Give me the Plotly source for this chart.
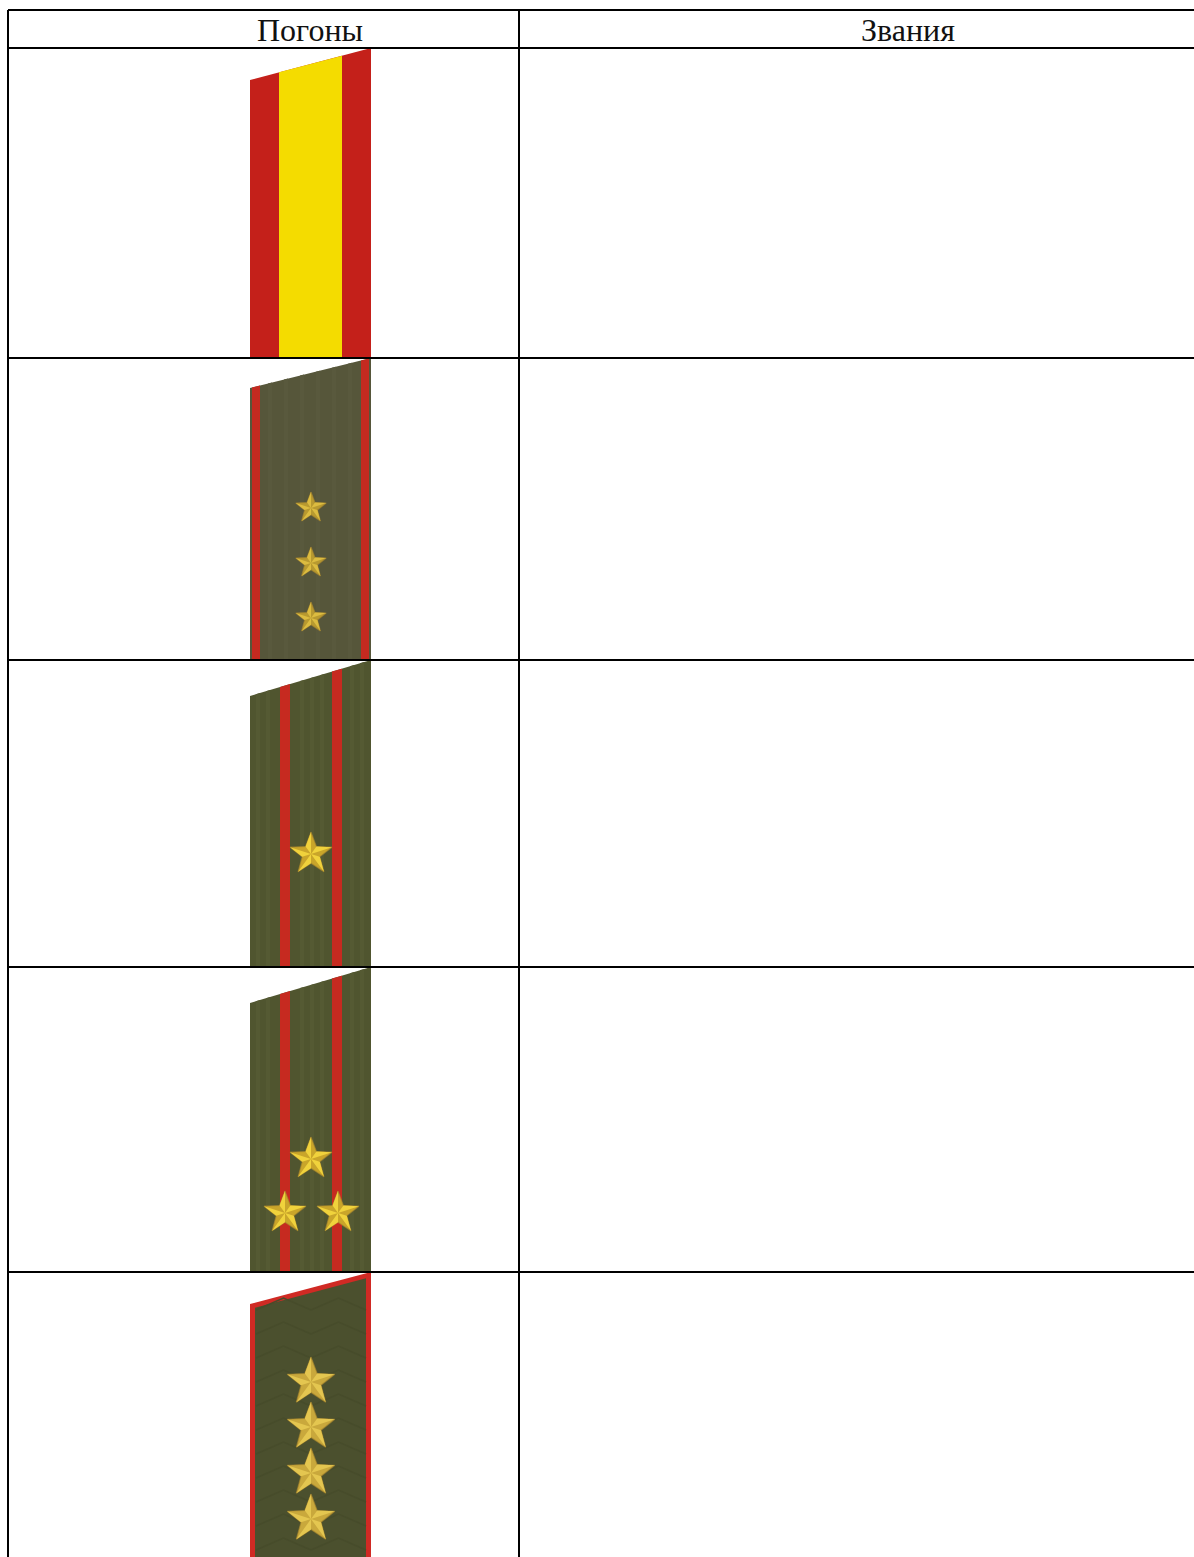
import math
import plotly.graph_objects as go

W, H = 1194, 1557
headers = ["Погоны", "Звания"]
header_x = [310, 908]
row_lines = [10, 48, 358, 660, 967, 1272, 1557]
col_lines = [8, 519]
board_left, board_right = 250, 371
board_rise = [32, 30, 36, 36, 32]

# one entry for each board
board_base = ["#c4201a", "#56563a", "#50552f", "#50552f", "#4b502e"]
# inner bands drawn over the base: (x0, x1, colour)
board_bands = [
    [(279, 342, "#f4dc00")],
    [(252, 260, "#c42a20"), (361, 369, "#c42a20")],
    [(280, 290, "#c62a20"), (332, 342, "#c62a20")],
    [(280, 290, "#c62a20"), (332, 342, "#c62a20")],
    [],
]
# faint vertical weave: (x, colour)
board_weave = [
    [],
    [(x, "#59593d") for x in (268, 284, 300, 316, 332, 348)],
    [(x, "#555a33") for x in (256, 266, 300, 310, 320, 350, 360)],
    [(x, "#555a33") for x in (256, 266, 300, 310, 320, 350, 360)],
    [],
]
board_edge = [0, 0, 0, 0, 5]
edge_colour = "#d02a24"
# stars: (row, cx, cy, radius)
stars = [
    (1, 311, 508, 16), (1, 311, 563, 16), (1, 311, 618, 16),
    (2, 311, 854, 22),
    (3, 311, 1159, 22), (3, 285, 1213, 22), (3, 338, 1213, 22),
    (4, 311, 1382, 25), (4, 311, 1427, 25), (4, 311, 1473, 25), (4, 311, 1519, 25),
]
star_light = ["", "#dcbc40", "#f0d23c", "#f0d23c", "#e4c650"]
star_dark = ["", "#b89a30", "#c9a52a", "#c9a52a", "#c9a83c"]
# chevron braid on the last board
zig_columns = [(256, 311), (311, 366)]
zig_rows = [1310, 1334, 1358, 1382, 1406, 1430, 1454, 1478, 1502, 1526, 1550]
zig_colour = "#474c2b"

fig = go.Figure()


def top_y(row, x):
    rise = board_rise[row]
    return row_lines[row + 1] + rise * (board_right - x) / (board_right - board_left)


def band(x0, x1, row, row_bot, colour):
    fig.add_trace(go.Scatter(
        x=[x0, x1, x1, x0, x0],
        y=[top_y(row, x0), top_y(row, x1), row_bot, row_bot, top_y(row, x0)],
        mode="lines", fill="toself", fillcolor=colour, line=dict(width=0),
        hoverinfo="skip", showlegend=False))


for i, base in enumerate(board_base):
    bot = row_lines[i + 2]
    if board_edge[i]:
        e = board_edge[i]
        band(board_left, board_right, i, bot, edge_colour)
        xs = [board_left + e, board_right - e, board_right - e, board_left + e, board_left + e]
        ys = [top_y(i, board_left + e) + e, top_y(i, board_right - e) + e, bot, bot,
              top_y(i, board_left + e) + e]
        fig.add_trace(go.Scatter(x=xs, y=ys, mode="lines", fill="toself", fillcolor=base,
                                 line=dict(width=0), hoverinfo="skip", showlegend=False))
    else:
        band(board_left, board_right, i, bot, base)
    for x, c in board_weave[i]:
        band(x, x + 4, i, bot, c)
    for x0, x1, c in board_bands[i]:
        band(x0, x1, i, bot, c)

# braid
zx, zy = [], []
for a, b in zig_columns:
    for y in zig_rows:
        zx += [a, (a + b) / 2, b, None]
        zy += [y, y - 12, y, None]
fig.add_trace(go.Scatter(x=zx, y=zy, mode="lines", line=dict(color=zig_colour, width=1.5),
                         hoverinfo="skip", showlegend=False))

# stars: ten facets around the centre
for row, cx, cy, r in stars:
    pts = []
    for k in range(10):
        a = math.radians(-90 + 36 * k)
        rad = r if k % 2 == 0 else r * 0.42
        pts.append((cx + rad * math.cos(a), cy + rad * math.sin(a)))
    fig.add_trace(go.Scatter(
        x=[p[0] for p in pts] + [pts[0][0]], y=[p[1] for p in pts] + [pts[0][1]],
        mode="lines", fill="toself", fillcolor=star_dark[row],
        line=dict(color="rgba(170,135,45,0.6)", width=1.2), hoverinfo="skip", showlegend=False))
    lx, ly = [], []
    for k in range(0, 10, 2):
        p, q = pts[(k - 1) % 10], pts[k]
        lx += [cx, p[0], q[0], cx, None]
        ly += [cy, p[1], q[1], cy, None]
    fig.add_trace(go.Scatter(x=lx, y=ly, mode="lines", fill="toself",
                             fillcolor=star_light[row], line=dict(width=0),
                             hoverinfo="skip", showlegend=False))

# rules
lx, ly = [], []
for y in row_lines[:-1]:
    lx += [col_lines[0], W, None]
    ly += [y, y, None]
for x in col_lines:
    lx += [x, x, None]
    ly += [row_lines[0], H, None]
fig.add_trace(go.Scatter(x=lx, y=ly, mode="lines", line=dict(color="#000000", width=2),
                         hoverinfo="skip", showlegend=False))

fig.add_trace(go.Scatter(
    x=header_x, y=[(row_lines[0] + row_lines[1]) / 2 + 4] * 2, mode="text", text=headers,
    textposition="middle center", textfont=dict(family="Liberation Serif", size=32, color="#111111"),
    hoverinfo="skip", showlegend=False))

fig.update_layout(
    width=W, height=H, margin=dict(l=0, r=0, t=0, b=0),
    paper_bgcolor="white", plot_bgcolor="white",
    xaxis=dict(range=[0, W], visible=False, fixedrange=True),
    yaxis=dict(range=[H, 0], visible=False, fixedrange=True),
)
fig.write_html("out.html", config=dict(displayModeBar=False),
               post_script="document.body.style.margin='0';document.body.style.overflow='hidden';")
